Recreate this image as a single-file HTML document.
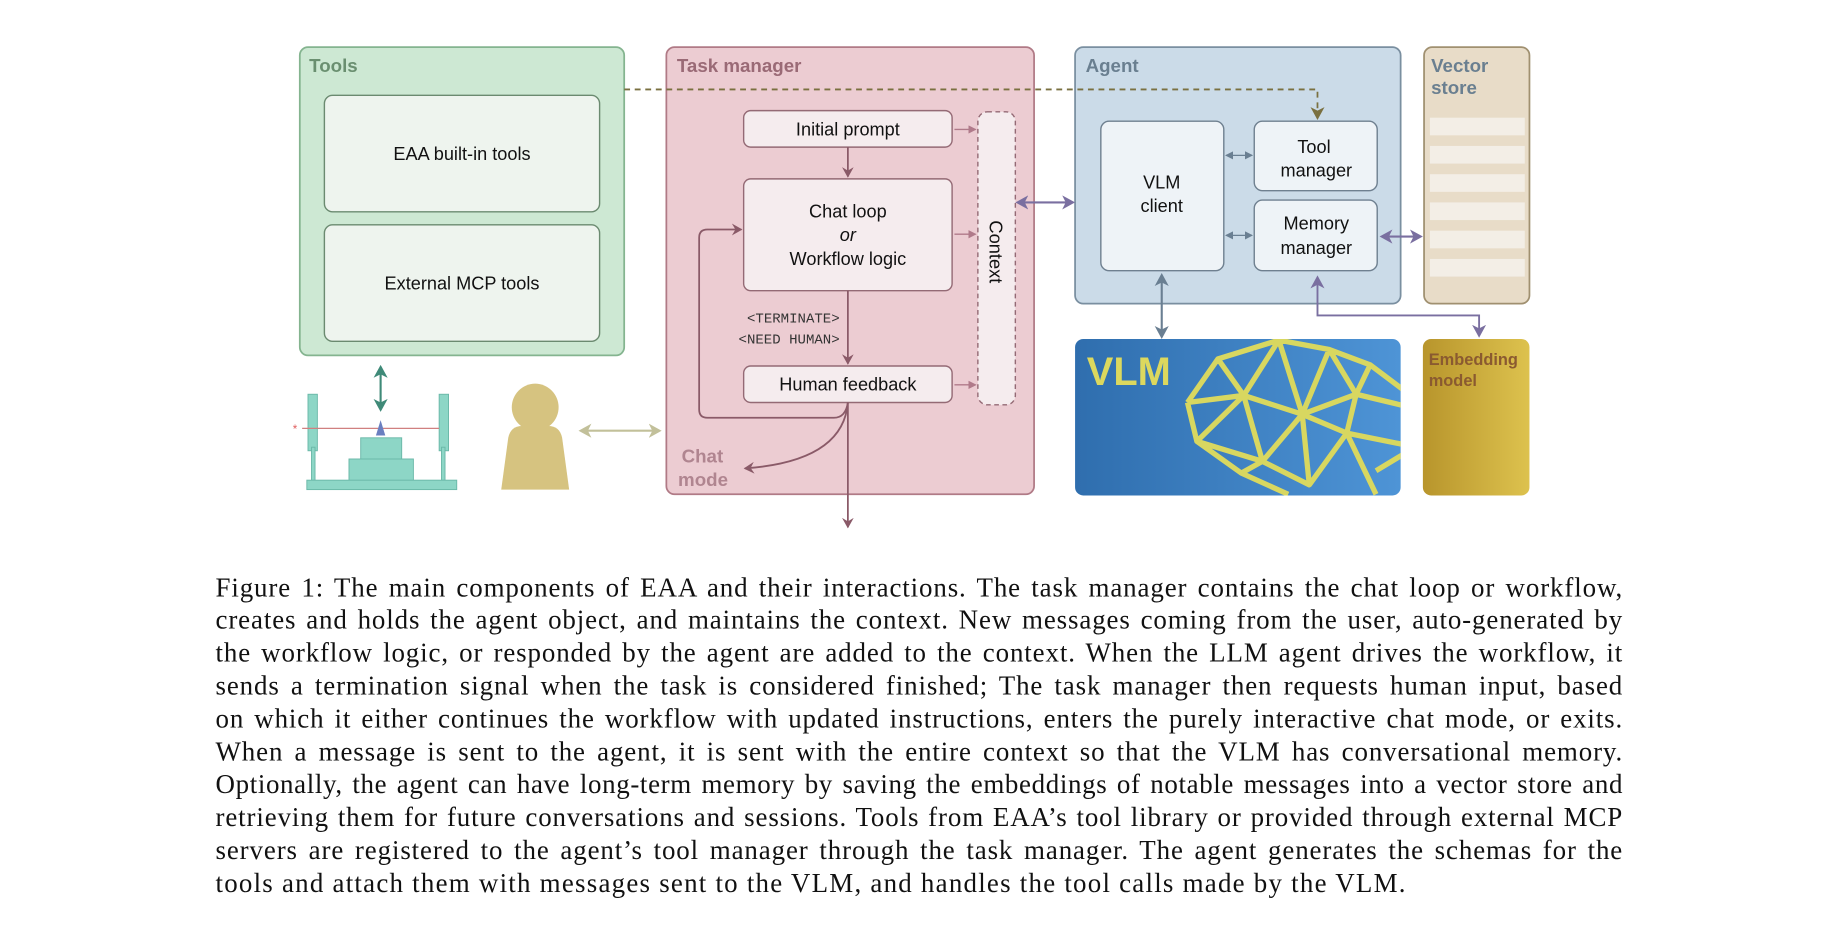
<!DOCTYPE html>
<html><head><meta charset="utf-8"><style>
html,body{margin:0;padding:0;background:#fff;width:1836px;height:941px;overflow:hidden}
#w{position:absolute;left:0;top:0;width:1560px;height:800px;transform:scale(1.1711,1.1769);transform-origin:0 0}
.cap{position:absolute;left:184px;width:1202px;font-family:"Liberation Serif",serif;font-size:23px;color:#111;text-align:justify;text-align-last:justify;white-space:nowrap;line-height:28px;letter-spacing:0.75px}
</style></head><body><div id="w">
<svg width="1560" height="800" style="position:absolute;left:0;top:0" font-family="Liberation Sans, sans-serif">
<defs>
<marker id="ag" markerWidth="10" markerHeight="10" refX="8" refY="5" orient="auto-start-reverse" markerUnits="userSpaceOnUse"><path d="M0,0 L9,5 L0,10 L3,5 z" fill="#8a5a68"/></marker>
<marker id="ap" markerWidth="12" markerHeight="12" refX="9" refY="6" orient="auto-start-reverse" markerUnits="userSpaceOnUse"><path d="M0,0 L11,6 L0,12 L3,6 z" fill="#7a6fa0"/></marker>
<marker id="ab" markerWidth="12" markerHeight="12" refX="9" refY="6" orient="auto-start-reverse" markerUnits="userSpaceOnUse"><path d="M0,0 L11,6 L0,12 L3,6 z" fill="#6a7f92"/></marker>
<marker id="as" markerWidth="7" markerHeight="7" refX="6" refY="3.5" orient="auto-start-reverse" markerUnits="userSpaceOnUse"><path d="M0,0 L7,3.5 L0,7 z" fill="#b07a8a"/></marker>
<marker id="asb" markerWidth="7" markerHeight="7" refX="6" refY="3.5" orient="auto-start-reverse" markerUnits="userSpaceOnUse"><path d="M0,0 L7,3.5 L0,7 z" fill="#6a7f92"/></marker>
<marker id="ao" markerWidth="12" markerHeight="12" refX="9" refY="6" orient="auto" markerUnits="userSpaceOnUse"><path d="M0,0 L11,6 L0,12 L3,6 z" fill="#7a7040"/></marker>
<marker id="at" markerWidth="12" markerHeight="12" refX="9" refY="6" orient="auto-start-reverse" markerUnits="userSpaceOnUse"><path d="M0,0 L11,6 L0,12 L3,6 z" fill="#3f8a78"/></marker>
<marker id="ay" markerWidth="12" markerHeight="12" refX="9" refY="6" orient="auto-start-reverse" markerUnits="userSpaceOnUse"><path d="M0,0 L11,6 L0,12 L3,6 z" fill="#c2c09a"/></marker>
<linearGradient id="gv" x1="0" x2="1"><stop offset="0" stop-color="#2f6eae"/><stop offset="1" stop-color="#4e94d6"/></linearGradient>
<linearGradient id="ge" x1="0" x2="1"><stop offset="0" stop-color="#b8952c"/><stop offset="1" stop-color="#ddc24e"/></linearGradient>
<clipPath id="cv"><rect x="918" y="288" width="278" height="133" rx="7"/></clipPath>
</defs>
<rect x="256" y="40" width="277" height="262" rx="7" fill="#cde8d3" stroke="#84b48f" stroke-width="1.5"/>
<text x="264" y="61" font-size="16" font-weight="bold" fill="#6a8f70">Tools</text>
<rect x="277" y="81" width="235" height="99" rx="7" fill="#eef4ee" stroke="#6b8a70" stroke-width="1.2"/>
<rect x="277" y="191" width="235" height="99" rx="7" fill="#eef4ee" stroke="#6b8a70" stroke-width="1.2"/>
<text x="394.5" y="136" font-size="15.5" text-anchor="middle" fill="#111">EAA built-in tools</text>
<text x="394.5" y="246" font-size="15.5" text-anchor="middle" fill="#111">External MCP tools</text>
<rect x="569" y="40" width="314" height="380" rx="7" fill="#ecccd2" stroke="#b07a86" stroke-width="1.5"/>
<text x="578" y="61" font-size="16" font-weight="bold" fill="#9a6a76">Task manager</text>
<rect x="635" y="94" width="178" height="31" rx="6" fill="#f5ecee" stroke="#946a75" stroke-width="1.2"/>
<rect x="635" y="152" width="178" height="95" rx="6" fill="#f5ecee" stroke="#946a75" stroke-width="1.2"/>
<rect x="635" y="311" width="178" height="31" rx="6" fill="#f5ecee" stroke="#946a75" stroke-width="1.2"/>
<text x="724" y="115" font-size="15.5" text-anchor="middle" fill="#111">Initial prompt</text>
<text x="724" y="185" font-size="15.5" text-anchor="middle" fill="#111">Chat loop</text>
<text x="724" y="205" font-size="15.5" text-anchor="middle" font-style="italic" fill="#111">or</text>
<text x="724" y="225" font-size="15.5" text-anchor="middle" fill="#111">Workflow logic</text>
<text x="724" y="332" font-size="15.5" text-anchor="middle" fill="#111">Human feedback</text>
<rect x="835" y="95" width="32" height="249" rx="8" fill="#f5ecee" stroke="#946a75" stroke-width="1.2" stroke-dasharray="4,3"/>
<text x="0" y="0" font-size="15.5" fill="#111" transform="translate(845,214) rotate(90)" text-anchor="middle">Context</text>
<line x1="815" y1="110" x2="833" y2="110" stroke="#b07a8a" stroke-width="1.2" marker-end="url(#as)"/>
<line x1="815" y1="199" x2="833" y2="199" stroke="#b07a8a" stroke-width="1.2" marker-end="url(#as)"/>
<line x1="815" y1="327" x2="833" y2="327" stroke="#b07a8a" stroke-width="1.2" marker-end="url(#as)"/>
<line x1="724" y1="125" x2="724" y2="150" stroke="#8a5a68" stroke-width="1.5" marker-end="url(#ag)"/>
<line x1="724" y1="247" x2="724" y2="309" stroke="#8a5a68" stroke-width="1.5" marker-end="url(#ag)"/>
<text x="717" y="274" font-size="12" font-family="Liberation Mono, monospace" text-anchor="end" fill="#333">&lt;TERMINATE&gt;</text>
<text x="717" y="292" font-size="12" font-family="Liberation Mono, monospace" text-anchor="end" fill="#333">&lt;NEED HUMAN&gt;</text>
<path d="M724,342 Q722,355 712,355 L604,355 Q597,355 597,348 L597,202 Q597,195 604,195 L633,195" fill="none" stroke="#8a5a68" stroke-width="1.5" marker-end="url(#ag)"/>
<path d="M724,342 Q720,392 636,398" fill="none" stroke="#8a5a68" stroke-width="1.5" marker-end="url(#ag)"/>
<line x1="724" y1="342" x2="724" y2="448" stroke="#8a5a68" stroke-width="1.5" marker-end="url(#ag)"/>
<text x="582" y="393" font-size="16" font-weight="bold" fill="#b08590">Chat</text>
<text x="579" y="413" font-size="16" font-weight="bold" fill="#b08590">mode</text>
<rect x="918" y="40" width="278" height="218" rx="7" fill="#cbdbe8" stroke="#7a8fa0" stroke-width="1.5"/>
<text x="927" y="61" font-size="16" font-weight="bold" fill="#6a7f90">Agent</text>
<rect x="940" y="103" width="105" height="127" rx="7" fill="#eef3f7" stroke="#6f8090" stroke-width="1.2"/>
<rect x="1071" y="103" width="105" height="59" rx="7" fill="#eef3f7" stroke="#6f8090" stroke-width="1.2"/>
<rect x="1071" y="170" width="105" height="60" rx="7" fill="#eef3f7" stroke="#6f8090" stroke-width="1.2"/>
<text x="992" y="160" font-size="15.5" text-anchor="middle" fill="#111">VLM</text>
<text x="992" y="180" font-size="15.5" text-anchor="middle" fill="#111">client</text>
<text x="1122" y="130" font-size="15.5" text-anchor="middle" fill="#111">Tool</text>
<text x="1124" y="150" font-size="15.5" text-anchor="middle" fill="#111">manager</text>
<text x="1124" y="195" font-size="15.5" text-anchor="middle" fill="#111">Memory</text>
<text x="1124" y="216" font-size="15.5" text-anchor="middle" fill="#111">manager</text>
<line x1="1047" y1="132" x2="1069" y2="132" stroke="#6a7f92" stroke-width="1" marker-start="url(#asb)" marker-end="url(#asb)"/>
<line x1="1047" y1="200" x2="1069" y2="200" stroke="#6a7f92" stroke-width="1" marker-start="url(#asb)" marker-end="url(#asb)"/>
<path d="M533,76 L1125,76 L1125,100" fill="none" stroke="#7a7040" stroke-width="1.5" stroke-dasharray="5,4" marker-end="url(#ao)"/>
<line x1="869" y1="172" x2="916" y2="172" stroke="#7a6fa0" stroke-width="1.8" marker-start="url(#ap)" marker-end="url(#ap)"/>
<rect x="1216" y="40" width="90" height="218" rx="7" fill="#e8dcc8" stroke="#a09070" stroke-width="1.5"/>
<text x="1222" y="61" font-size="16" font-weight="bold" fill="#6a7f90">Vector</text>
<text x="1222" y="80" font-size="16" font-weight="bold" fill="#6a7f90">store</text>
<g fill="#f3eee6"><rect x="1221" y="100" width="81" height="15"/><rect x="1221" y="124" width="81" height="15"/><rect x="1221" y="148" width="81" height="15"/><rect x="1221" y="172" width="81" height="15"/><rect x="1221" y="196" width="81" height="15"/><rect x="1221" y="220" width="81" height="15"/></g>
<line x1="1180" y1="201" x2="1213" y2="201" stroke="#7a6fa0" stroke-width="1.8" marker-start="url(#ap)" marker-end="url(#ap)"/>
<rect x="918" y="288" width="278" height="133" rx="7" fill="url(#gv)"/>
<text x="928" y="327" font-size="34" font-weight="bold" fill="#dcd85e">VLM</text>
<g clip-path="url(#cv)" fill="none" stroke="#d8d760" stroke-width="4.5" stroke-linejoin="round">
<path d="M1014,342 L1040,305 L1092,289 L1135,297 L1170,310 L1210,340 M1014,342 L1022,375 L1060,402 L1100,420 M1014,342 L1062,336 L1112,352 L1150,368 L1200,378 M1040,305 L1062,336 L1092,289 L1112,352 L1135,297 L1158,335 L1170,310 M1112,352 L1158,335 L1200,345 M1022,375 L1062,336 L1078,392 L1112,352 L1118,412 L1078,392 L1060,402 M1118,412 L1150,368 L1175,420 M1150,368 L1158,335 M1022,375 L1078,392 M1175,400 L1200,385"/>
</g>
<line x1="992" y1="234" x2="992" y2="286" stroke="#6a7f92" stroke-width="1.8" marker-start="url(#ab)" marker-end="url(#ab)"/>
<path d="M1125,236 L1125,268 L1263,268 L1263,285" fill="none" stroke="#7a6fa0" stroke-width="1.6" marker-start="url(#ap)" marker-end="url(#ap)"/>
<rect x="1215" y="288" width="91" height="133" rx="7" fill="url(#ge)"/>
<text x="1220" y="310" font-size="14" font-weight="bold" fill="#8a5a30">Embedding</text>
<text x="1220" y="328" font-size="14" font-weight="bold" fill="#8a5a30">model</text>
<line x1="325" y1="312" x2="325" y2="348" stroke="#3f8a78" stroke-width="1.8" marker-start="url(#at)" marker-end="url(#at)"/>
<g fill="#8dd6c6" stroke="#6ab8a8" stroke-width="0.8">
<rect x="263" y="335" width="8" height="48"/><rect x="266" y="380" width="3" height="30"/>
<rect x="375" y="335" width="8" height="48"/><rect x="377" y="380" width="3" height="30"/>
<rect x="308" y="372" width="35" height="20"/><rect x="298" y="390" width="55" height="20"/>
<rect x="262" y="408" width="128" height="8"/>
</g>
<line x1="258" y1="364" x2="375" y2="364" stroke="#d08080" stroke-width="1"/>
<text x="250" y="368" font-size="10" fill="#e06060">*</text>
<path d="M321,370 L325,357 L329,370 z" fill="#6a7fc0"/>
<circle cx="457" cy="346" r="20" fill="#d6c380"/>
<path d="M434,372 Q436,362 446,362 L468,362 Q478,362 480,372 L486,416 L428,416 z" fill="#d6c380"/>
<line x1="496" y1="366" x2="563" y2="366" stroke="#c2c09a" stroke-width="1.8" marker-start="url(#ay)" marker-end="url(#ay)"/>
</svg>
<div class="cap" style="top:486px">Figure 1: The main components of EAA and their interactions. The task manager contains the chat loop or workflow,</div>
<div class="cap" style="top:513px">creates and holds the agent object, and maintains the context. New messages coming from the user, auto-generated by</div>
<div class="cap" style="top:541px">the workflow logic, or responded by the agent are added to the context. When the LLM agent drives the workflow, it</div>
<div class="cap" style="top:569px">sends a termination signal when the task is considered finished; The task manager then requests human input, based</div>
<div class="cap" style="top:597px">on which it either continues the workflow with updated instructions, enters the purely interactive chat mode, or exits.</div>
<div class="cap" style="top:625px">When a message is sent to the agent, it is sent with the entire context so that the VLM has conversational memory.</div>
<div class="cap" style="top:653px;letter-spacing:0.55px">Optionally, the agent can have long-term memory by saving the embeddings of notable messages into a vector store and</div>
<div class="cap" style="top:681px">retrieving them for future conversations and sessions. Tools from EAA’s tool library or provided through external MCP</div>
<div class="cap" style="top:709px">servers are registered to the agent’s tool manager through the task manager. The agent generates the schemas for the</div>
<div class="cap" style="top:737px;text-align-last:left;letter-spacing:1.05px">tools and attach them with messages sent to the VLM, and handles the tool calls made by the VLM.</div>
</div></body></html>
